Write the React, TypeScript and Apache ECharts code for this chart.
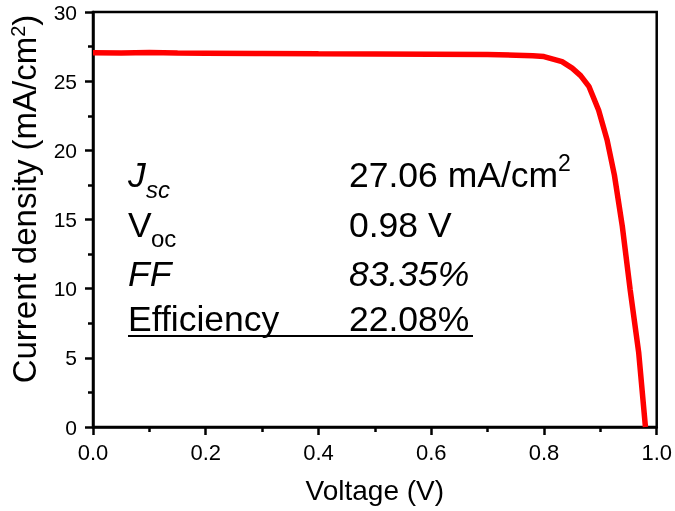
import React, { useEffect, useRef } from "react";
import * as echarts from "echarts";

const voltage = [0, 0.05, 0.1, 0.15, 0.2, 0.3, 0.4, 0.5, 0.6, 0.7, 0.75, 0.78, 0.8, 0.832, 0.85, 0.865, 0.88, 0.897, 0.912, 0.925, 0.939, 0.953, 0.968, 0.98];
const current = [27.06, 27.04, 27.08, 27.03, 27.02, 27.0, 26.98, 26.97, 26.95, 26.92, 26.88, 26.84, 26.78, 26.41, 25.94, 25.4, 24.6, 22.9, 20.75, 18.2, 14.5, 9.9, 5.4, 0];

const statLabels = ["J", "V", "FF", "Efficiency"];
const statSubs = ["sc", "oc", "", ""];
const statValues = ["27.06 mA/cm", "0.98 V", "83.35%", "22.08%"];
const labelItalic = [true, false, true, false];
const valueItalic = [false, false, true, false];

const FONT = "'Liberation Sans', Arial, sans-serif";

export default function App() {
  const ref = useRef<HTMLDivElement>(null);
  useEffect(() => {
    const chart = echarts.init(ref.current!, null, { renderer: "svg" });
    const rowY = [175, 225, 273.5, 318.5];
    const graphics: any[] = [];
    statLabels.forEach((lab, i) => {
      graphics.push({
        type: "text", x: 128, y: rowY[i],
        style: { text: lab, fontSize: 35.5, fontFamily: FONT, fontStyle: labelItalic[i] ? "italic" : "normal", fill: "#000", verticalAlign: "middle" },
      });
      if (statSubs[i]) {
        graphics.push({
          type: "text", x: i === 0 ? 146 : 151, y: i === 0 ? 189 : 238,
          style: { text: statSubs[i], fontSize: 24, fontFamily: FONT, fontStyle: labelItalic[i] ? "italic" : "normal", fill: "#000", verticalAlign: "middle" },
        });
      }
      graphics.push({
        type: "text", x: 349, y: rowY[i],
        style: { text: statValues[i], fontSize: 35.5, fontFamily: FONT, fontStyle: valueItalic[i] ? "italic" : "normal", fill: "#000", verticalAlign: "middle" },
      });
    });
    graphics.push({
      type: "text", x: 558, y: 163,
      style: { text: "2", fontSize: 23, fontFamily: FONT, fill: "#000", verticalAlign: "middle" },
    });
    graphics.push({
      type: "line", shape: { x1: 128, y1: 336, x2: 473, y2: 336 },
      style: { stroke: "#000", lineWidth: 2 },
    });

    chart.setOption({
      animation: false,
      textStyle: { fontFamily: FONT },
      grid: { left: 93, right: 17, top: 12, bottom: 84, show: true, borderColor: "#000", borderWidth: 2.5, backgroundColor: "transparent" },
      xAxis: {
        type: "value", min: 0, max: 1, interval: 0.2,
        name: "Voltage (V)", nameLocation: "middle", nameGap: 49,
        nameTextStyle: { fontSize: 28, color: "#000", fontFamily: FONT },
        axisLine: { show: true, lineStyle: { color: "#000", width: 2.5 } },
        axisTick: { show: true, inside: false, length: 8, lineStyle: { color: "#000", width: 2.5 } },
        minorTick: { show: true, splitNumber: 2, length: 5, lineStyle: { color: "#000", width: 2.5 } },
        axisLabel: { fontSize: 22, color: "#000", margin: 14, fontFamily: FONT, formatter: (v: number) => v.toFixed(1) },
        splitLine: { show: false },
      },
      yAxis: {
        type: "value", min: 0, max: 30, interval: 5,
        name: "Current density (mA/cm{sup|2})", nameLocation: "middle", nameGap: 52,
        nameTextStyle: { fontSize: 33, color: "#000", fontFamily: FONT, padding: [0, 0, 0, 41], rich: { sup: { fontSize: 20, verticalAlign: "top", fontFamily: FONT, color: "#000" } } },
        axisLine: { show: true, lineStyle: { color: "#000", width: 2.5 } },
        axisTick: { show: true, inside: false, length: 8, lineStyle: { color: "#000", width: 2.5 } },
        minorTick: { show: true, splitNumber: 2, length: 5, lineStyle: { color: "#000", width: 2.5 } },
        axisLabel: { fontSize: 21, color: "#000", margin: 16, fontFamily: FONT },
        splitLine: { show: false },
      },
      series: [{
        type: "line",
        data: voltage.map((v, i) => [v, current[i]]),
        showSymbol: false,
        symbol: "none",
        lineStyle: { color: "#ff0000", width: 5.5 },
        smooth: false,
      }],
      graphic: graphics,
    });
    return () => chart.dispose();
  }, []);
  return <div ref={ref} style={{ position: "fixed", left: 0, top: 0, width: 675, height: 511 }} />;
}
